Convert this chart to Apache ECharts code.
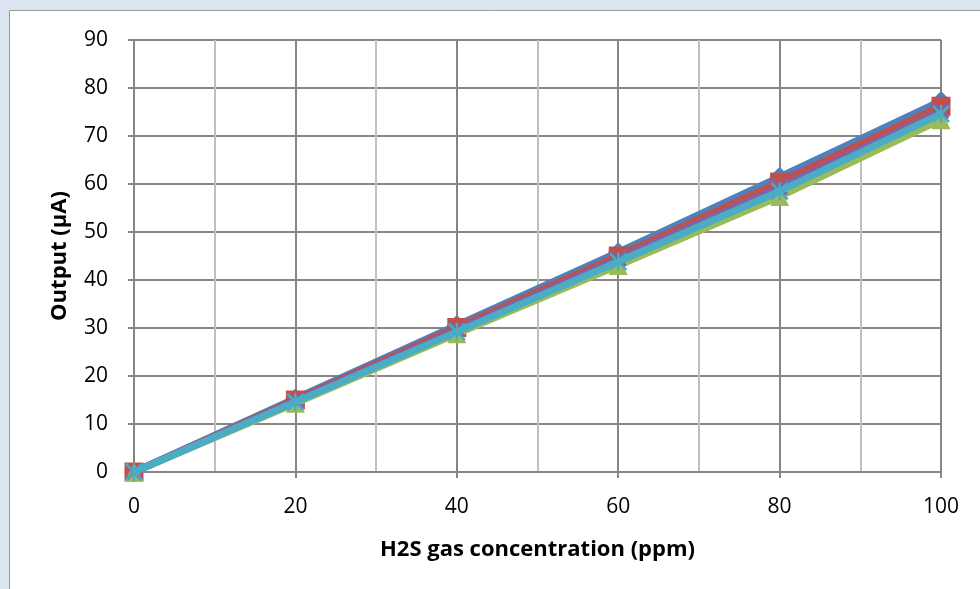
<!DOCTYPE html>
<html>
<head>
<meta charset="utf-8">
<script src="https://cdn.jsdelivr.net/npm/echarts@6/dist/echarts.min.js"></script>
<style>html,body{margin:0;padding:0;background:#dbe5f1}#c{width:980px;height:589px}</style>
</head>
<body>
<div id="c"></div>
<script>
const xValues = [0, 20, 40, 60, 80, 100];
const seriesNames = ['S1', 'S2', 'S3', 'S4', 'S5'];
const s1 = [0, 15.3, 30.6, 45.8, 61.5, 77.3];
const s2 = [0, 15.0, 30.1, 45.0, 60.4, 76.2];
const s3 = [0, 14.3, 28.8, 43.0, 57.4, 73.4];
const s4 = [0, 14.8, 29.6, 44.4, 59.3, 75.2];
const s5 = [0, 14.6, 29.2, 43.8, 58.5, 74.6];
const xName = 'H2S gas concentration (ppm)';
const yName = 'Output (µA)';

const colors = ['#4f81bd', '#c0504d', '#9bbb59', '#8064a2', '#4bacc6'];
const xPath = 'path://M0,1.5 L1.5,0 L5,3.5 L8.5,0 L10,1.5 L6.5,5 L10,8.5 L8.5,10 L5,6.5 L1.5,10 L0,8.5 L3.5,5 Z';
const starPath = 'path://M0,1 L1,0 L5,4 L9,0 L10,1 L6,5 L10,9 L9,10 L5,6 L1,10 L0,9 L4,5 Z M4.4,0 L5.6,0 L5.6,10 L4.4,10 Z';
const symbols = ['diamond', 'rect', 'triangle', xPath, starPath];
const sizes = [20, 19, 19, 17, 18];
const allData = [s1, s2, s3, s4, s5];

const chart = echarts.init(document.getElementById('c'), null, {renderer: 'canvas'});
const font = "'Open Sans', 'Liberation Sans', sans-serif";
chart.setOption({
  backgroundColor: '#dbe5f1',
  animation: false,
  graphic: [{
    type: 'rect', z: -10, silent: true,
    shape: {x: 9.5, y: 10.5, width: 990, height: 600},
    style: {fill: '#ffffff', stroke: '#9a9a9a', lineWidth: 1}
  }],
  grid: {left: 134, right: 39, top: 40, bottom: 117, containLabel: false},
  xAxis: {
    type: 'value', min: 0, max: 100, interval: 20,
    name: xName, nameLocation: 'middle', nameGap: 67,
    nameTextStyle: {fontFamily: font, fontSize: 22, fontWeight: 'bold', color: '#000'},
    axisLine: {show: true, lineStyle: {color: '#868686', width: 2}},
    axisTick: {show: true, length: 6, lineStyle: {color: '#868686', width: 2}},
    axisLabel: {fontFamily: font, fontSize: 21, color: '#000', margin: 25},
    splitLine: {show: true, lineStyle: {color: '#868686', width: 2}},
    minorTick: {show: false, splitNumber: 2},
    minorSplitLine: {show: true, lineStyle: {color: '#c0c0c0', width: 2}}
  },
  yAxis: {
    type: 'value', min: 0, max: 90, interval: 10,
    name: yName, nameLocation: 'middle', nameGap: 63, nameRotate: 90,
    nameTextStyle: {fontFamily: font, fontSize: 22, fontWeight: 'bold', color: '#000'},
    axisLine: {show: true, lineStyle: {color: '#868686', width: 2}},
    axisTick: {show: true, length: 6, lineStyle: {color: '#868686', width: 2}},
    axisLabel: {fontFamily: font, fontSize: 21, color: '#000', margin: 26},
    splitLine: {show: true, lineStyle: {color: '#868686', width: 2}}
  },
  series: allData.map((d, i) => ({
    name: seriesNames[i],
    type: 'line',
    data: d.map((v, j) => [xValues[j], v]),
    symbol: symbols[i],
    symbolSize: sizes[i],
    showAllSymbol: true,
    lineStyle: {color: colors[i], width: 7},
    itemStyle: {color: colors[i], borderWidth: 0},
    z: 2 + i
  }))
});
</script>
</body>
</html>
